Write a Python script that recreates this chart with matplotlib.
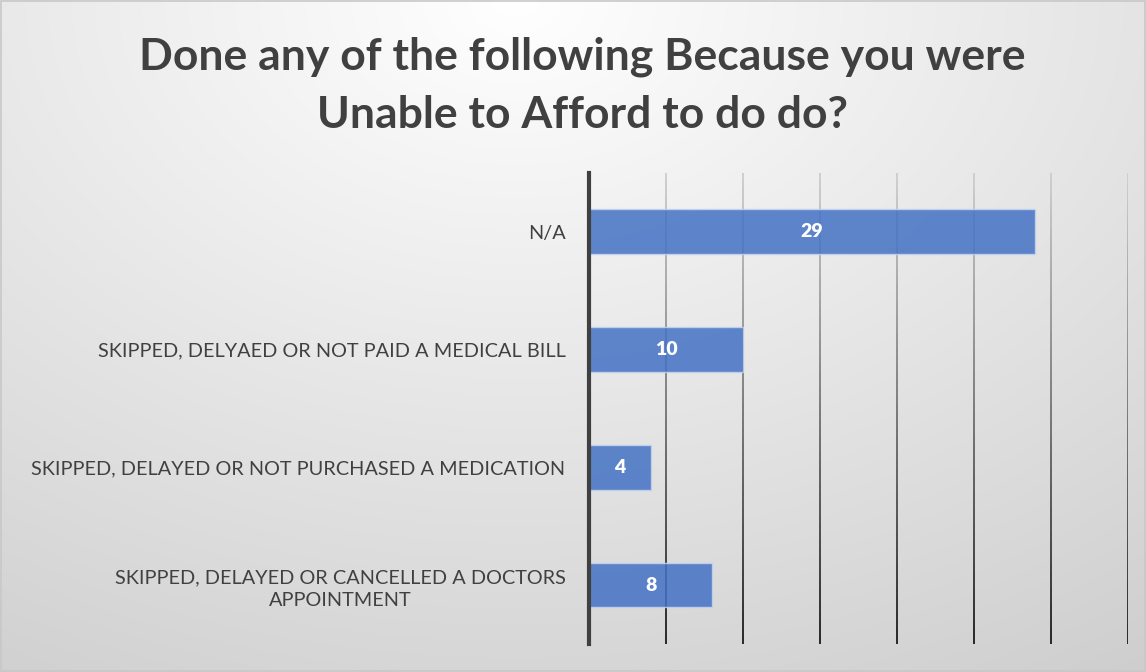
import numpy as np
import matplotlib.pyplot as plt
from matplotlib.collections import LineCollection

# data (bottom to top)
categories = ['SKIPPED, DELAYED OR CANCELLED A DOCTORS\nAPPOINTMENT',
              'SKIPPED, DELAYED OR NOT PURCHASED A MEDICATION',
              'SKIPPED, DELYAED OR NOT PAID A MEDICAL BILL',
              'N/A']
counts = [8, 4, 10, 29]
ticks = [0, 5, 10, 15, 20, 25, 30, 35]
title = 'Done any of the following Because you were\nUnable to Afford to do do?'

fig = plt.figure(figsize=(11.46, 6.72), dpi=100)

# radial grey background, white near top centre
bg = fig.add_axes([0, 0, 1, 1], zorder=-10)
yy, xx = np.mgrid[0:1:300j, 0:1:500j]
r = np.sqrt(((xx - 0.45) * 1.2) ** 2 + (yy - 0.0) ** 2)
grey = np.clip(1.0 - 0.16 * r, 0.78, 1.0)
bg.imshow(np.dstack([grey, grey, grey]), aspect='auto',
          extent=[0, 1, 1, 0], interpolation='bilinear')
bg.set_xlim(0, 1)
bg.set_ylim(1, 0)
bg.axis('off')
fig.patches.append(plt.Rectangle((0.001, 0.001), 0.998, 0.997, transform=fig.transFigure,
                                 fill=False, edgecolor='#c8c8c8', linewidth=1.2))

ax = fig.add_axes([0.514, 0.0417, 0.47, 0.701])
ax.patch.set_alpha(0)
ax.set_xlim(0, 35)
ax.set_ylim(-0.5, 3.5)

# gridlines fading from light at top to dark at bottom
ys = np.linspace(-0.5, 3.5, 60)
for t in ticks[1:]:
    segs = [[(t, ys[i]), (t, ys[i + 1])] for i in range(len(ys) - 1)]
    shade = np.linspace(0.1, 0.80, len(segs))
    cols = [(s, s, s) for s in shade]
    ax.add_collection(LineCollection(segs, colors=cols, linewidths=1.3, zorder=1))
ax.axvline(0, color='#404040', linewidth=3, zorder=4, clip_on=False)

bars = ax.barh(range(len(counts)), counts, height=0.38, color='#4472c4', alpha=0.85,
               edgecolor='#c5d3ee', linewidth=1, zorder=3)
for b, v in zip(bars, counts):
    ax.text(b.get_width() / 2, b.get_y() + b.get_height() / 2, str(v), ha='center',
            va='center', color='white', fontsize=14, fontweight='heavy',
            family='Lato', zorder=5)

ax.set_yticks(range(len(categories)))
ax.set_yticklabels(categories, fontsize=14.3, color='#404040', family='Lato')
for lab in ax.get_yticklabels():
    lab.set_multialignment('center')
    lab.set_linespacing(1.4)
ax.tick_params(axis='y', length=0, pad=17)
ax.set_xticks([])
for s in ax.spines.values():
    s.set_visible(False)

fig.text(0.508, 0.873, title, ha='center', va='center', fontsize=32, fontweight='bold',
         color='#404040', family='Lato', linespacing=1.55)

fig.savefig('out.png', dpi=100)
